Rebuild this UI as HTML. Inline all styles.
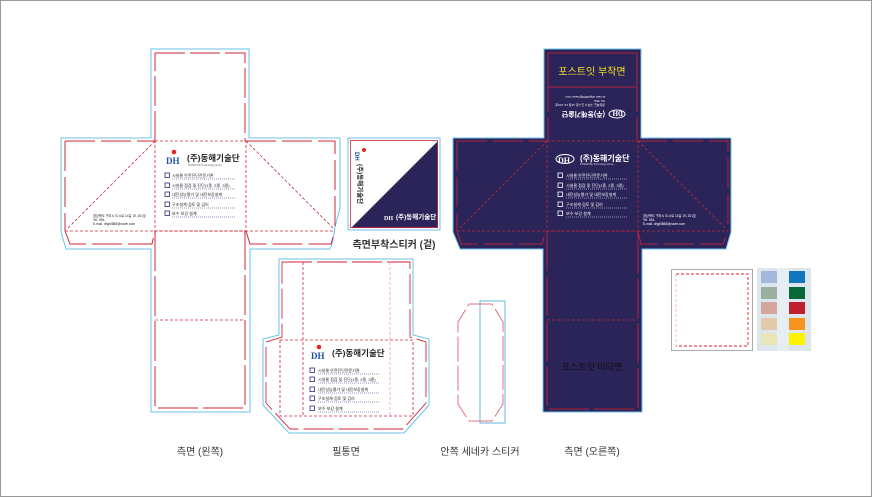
<!DOCTYPE html>
<html><head><meta charset="utf-8">
<style>
html,body{margin:0;padding:0;background:#fff;}
svg{display:block;font-family:"Liberation Sans","Noto Sans CJK KR",sans-serif;}
</style></head>
<body>
<svg width="872" height="497" viewBox="0 0 872 497" xmlns="http://www.w3.org/2000/svg">
<rect x="0.5" y="0.5" width="871" height="496" fill="#fff" stroke="#999"/>

<!-- LEFT CROSS -->
<path d="M151 49 H249 V138 H340 V208 L335 227 Q333 244 330 249 H250 V412 H151 V249 H66 L61 232 V138 H151 Z" fill="#fff" stroke="#6cc3ea" stroke-width="1"/>
<g fill="none" stroke="#d0273a" stroke-width="1">
<path d="M155 53 H245 V141" stroke-dasharray="30 5"/>
<path d="M155 141 V53" stroke-dasharray="30 5"/>
<path d="M65 141 H155 M246 141 H335 V231 M65 141 V231" stroke-dasharray="30 6"/>
<path d="M65 231 L70 244 H152 L155 231 M246 231 L250 244 H331 L335 231" stroke-dasharray="30 6"/>
<path d="M155 231 V408 H245 V231" stroke-dasharray="40 5"/>
</g>
<g fill="none" stroke="#d0273a" stroke-width="0.8" stroke-dasharray="3 2">
<rect x="155" y="141" width="91" height="90"/>
<line x1="65" y1="231" x2="335" y2="231"/>
<line x1="155" y1="320" x2="245" y2="320"/>
<line x1="155" y1="141" x2="68" y2="228"/>
<line x1="246" y1="141" x2="333" y2="228"/>
</g>
<g>
<circle cx="174" cy="152" r="2.3" fill="#e3261d"/>
<text x="166" y="164" font-size="9" font-weight="bold" fill="#1f4fa3" font-family="Liberation Serif,serif">DH</text>
<text x="187" y="161" font-size="8.5" font-weight="bold" fill="#222">(주)동해기술단</text>
<text x="188" y="166" font-size="2.5" fill="#666">DONGHAE Technology Group</text>
<g font-size="4" fill="#222">
<rect x="165" y="173" width="4.5" height="4.5" fill="none" stroke="#2b2a7a" stroke-width="0.8"/><text x="172" y="177">시설물 안전진단전문기관</text><line x1="172" y1="179" x2="235" y2="179" stroke="#2b2a7a" stroke-dasharray="1 1" stroke-width="0.6"/>
<rect x="165" y="183" width="4.5" height="4.5" fill="none" stroke="#2b2a7a" stroke-width="0.8"/><text x="172" y="187">시설물 점검 및 진단(1종, 2종, 3종)</text><line x1="172" y1="189" x2="235" y2="189" stroke="#2b2a7a" stroke-dasharray="1 1" stroke-width="0.6"/>
<rect x="165" y="192" width="4.5" height="4.5" fill="none" stroke="#2b2a7a" stroke-width="0.8"/><text x="172" y="196">내진성능평가 및 내진보강설계</text><line x1="172" y1="198" x2="235" y2="198" stroke="#2b2a7a" stroke-dasharray="1 1" stroke-width="0.6"/>
<rect x="165" y="202" width="4.5" height="4.5" fill="none" stroke="#2b2a7a" stroke-width="0.8"/><text x="172" y="206">구조설계·검토 및 감리</text><line x1="172" y1="208" x2="235" y2="208" stroke="#2b2a7a" stroke-dasharray="1 1" stroke-width="0.6"/>
<rect x="165" y="211" width="4.5" height="4.5" fill="none" stroke="#2b2a7a" stroke-width="0.8"/><text x="172" y="215">보수·보강 설계</text><line x1="172" y1="217" x2="235" y2="217" stroke="#2b2a7a" stroke-dasharray="1 1" stroke-width="0.6"/>
</g>
<g font-size="3.2" fill="#222"><text x="93" y="217">경상북도 구미시 도시로 14길 19, 201호</text><text x="93" y="221">Tel. 054-</text><text x="93" y="225">E-mail. dhgt0888@naver.com</text></g>
</g>

<!-- SIDE STICKER -->
<rect x="348" y="138" width="92" height="92" fill="#fff" stroke="#6cc3ea"/>
<path d="M438 141 V228 H351 Z" fill="#2a2459"/>
<rect x="350.5" y="140.5" width="87" height="87" fill="none" stroke="#d0273a" stroke-width="0.8"/>
<text x="355" y="152" font-size="6" font-weight="bold" fill="#1f4fa3" transform="rotate(90 355 152)">DH</text>
<circle cx="364" cy="150" r="2" fill="#e3261d"/>
<text x="358" y="164" font-size="6.5" font-weight="bold" fill="#222" transform="rotate(90 358 164)">(주)동해기술단</text>
<text x="384" y="220" font-size="6" font-weight="bold" fill="#fff" font-family="Liberation Serif,serif">DH</text>
<text x="396" y="219" font-size="6.5" font-weight="bold" fill="#fff">(주)동해기술단</text>
<text x="394" y="248" font-size="10" font-weight="bold" fill="#333" text-anchor="middle">측면부착스티커 (겉)</text>

<!-- PENCIL CASE -->
<path d="M279 259 H413 V335 L429 339 V405 L404 433 H289 L263 405 V339 L279 335 Z" fill="#fff" stroke="#6cc3ea"/>
<g fill="none" stroke="#d0273a" stroke-width="0.9">
<path d="M282 262 H410 V337 L426 342 V403 L403 429 H290 L266 403 V342 L282 337 Z" stroke-dasharray="30 5"/>
</g>
<g fill="none" stroke="#d0273a" stroke-width="0.8" stroke-dasharray="3 2">
<rect x="280" y="340" width="133" height="76"/>
<line x1="303" y1="262" x2="303" y2="416"/>
</g>
<line x1="390" y1="262" x2="390" y2="416" stroke="#f0a0a8" stroke-width="0.8" stroke-dasharray="3 2"/>
<g>
<circle cx="319" cy="347" r="2.3" fill="#e3261d"/>
<text x="311" y="359" font-size="9" font-weight="bold" fill="#1f4fa3" font-family="Liberation Serif,serif">DH</text>
<text x="332" y="356" font-size="8.5" font-weight="bold" fill="#222">(주)동해기술단</text>
<g font-size="4" fill="#222">
<rect x="310" y="368" width="4.5" height="4.5" fill="none" stroke="#2b2a7a" stroke-width="0.8"/><text x="318" y="372">시설물 안전진단전문기관</text><line x1="318" y1="374" x2="380" y2="374" stroke="#2b2a7a" stroke-dasharray="1 1" stroke-width="0.6"/>
<rect x="310" y="377" width="4.5" height="4.5" fill="none" stroke="#2b2a7a" stroke-width="0.8"/><text x="318" y="381">시설물 점검 및 진단(1종, 2종, 3종)</text><line x1="318" y1="383" x2="380" y2="383" stroke="#2b2a7a" stroke-dasharray="1 1" stroke-width="0.6"/>
<rect x="310" y="387" width="4.5" height="4.5" fill="none" stroke="#2b2a7a" stroke-width="0.8"/><text x="318" y="391">내진성능평가 및 내진보강설계</text><line x1="318" y1="393" x2="380" y2="393" stroke="#2b2a7a" stroke-dasharray="1 1" stroke-width="0.6"/>
<rect x="310" y="396" width="4.5" height="4.5" fill="none" stroke="#2b2a7a" stroke-width="0.8"/><text x="318" y="400">구조설계·검토 및 감리</text><line x1="318" y1="402" x2="380" y2="402" stroke="#2b2a7a" stroke-dasharray="1 1" stroke-width="0.6"/>
<rect x="310" y="406" width="4.5" height="4.5" fill="none" stroke="#2b2a7a" stroke-width="0.8"/><text x="318" y="410">보수·보강 설계</text><line x1="318" y1="412" x2="380" y2="412" stroke="#2b2a7a" stroke-dasharray="1 1" stroke-width="0.6"/>
</g>
</g>

<!-- SENECA -->
<path d="M469 304 H492 L503 322 V404 L492 421 H469 L458 404 V322 Z" fill="none" stroke="#e07080" stroke-width="1" stroke-dasharray="25 4"/>
<rect x="480" y="301" width="25" height="122" fill="none" stroke="#5aaed8" stroke-width="0.9"/>

<!-- RIGHT CROSS -->
<path d="M544 49 H641 V138 H731 V232 L726 249 H642 V412 H543 V249 H460 L453 232 V138 H544 Z" fill="#2a2459" stroke="#6cc3ea" stroke-width="1"/>
<g fill="none" stroke="#b0253c" stroke-width="1">
<rect x="548" y="53" width="89" height="34"/>
<path d="M548 87 V141 M637 87 V141" stroke-dasharray="25 5"/>
<path d="M457 141 H548 M637 141 H728 V231 M457 141 V231" stroke-dasharray="30 6"/>
<path d="M457 231 L461 244 H542 L546 231 M638 231 L641 244 H723 L728 231" stroke-dasharray="30 6"/>
<path d="M547 231 V409 H638 V231" stroke-dasharray="40 5"/>
</g>
<g fill="none" stroke="#c0273a" stroke-width="0.8" stroke-dasharray="3 2">
<rect x="547" y="141" width="91" height="90"/>
<line x1="457" y1="231" x2="728" y2="231"/>
<line x1="547" y1="320" x2="638" y2="320"/>
<line x1="547" y1="141" x2="460" y2="228"/>
<line x1="638" y1="141" x2="725" y2="228"/>
</g>
<text x="592" y="75" font-size="10" fill="#f5e021" text-anchor="middle">포스트잇 부착면</text>
<g transform="rotate(180 592 112)" fill="#fff">
<ellipse cx="567" cy="110" rx="8" ry="4" fill="none" stroke="#fff" stroke-width="1"/>
<text x="561" y="113" font-size="7" font-weight="bold" font-family="Liberation Serif,serif">DH</text>
<text x="579" y="112" font-size="7" font-weight="bold">(주)동해기술단</text>
<g font-size="3"><text x="579" y="120">경상북도 구미시 도시로 14길 19, 201호</text><text x="579" y="124">Tel. 054-</text><text x="579" y="128">E-mail. dhgt0888@naver.com</text></g>
</g>
<g>
<ellipse cx="565" cy="159" rx="9" ry="4.5" fill="none" stroke="#fff" stroke-width="1"/>
<text x="558" y="163" font-size="8" font-weight="bold" fill="#fff" font-family="Liberation Serif,serif">DH</text>
<text x="580" y="161" font-size="8" font-weight="bold" fill="#fff">(주)동해기술단</text>
<text x="580" y="165" font-size="2.5" fill="#ddd">DONGHAE Technology Group</text>
<g font-size="4" fill="#fff">
<rect x="558" y="173" width="4.5" height="4.5" fill="none" stroke="#fff" stroke-width="0.8"/><text x="566" y="177">시설물 안전진단전문기관</text><line x1="566" y1="179" x2="628" y2="179" stroke="#fff" stroke-dasharray="1 1" stroke-width="0.6"/>
<rect x="558" y="183" width="4.5" height="4.5" fill="none" stroke="#fff" stroke-width="0.8"/><text x="566" y="187">시설물 점검 및 진단(1종, 2종, 3종)</text><line x1="566" y1="189" x2="628" y2="189" stroke="#fff" stroke-dasharray="1 1" stroke-width="0.6"/>
<rect x="558" y="192" width="4.5" height="4.5" fill="none" stroke="#fff" stroke-width="0.8"/><text x="566" y="196">내진성능평가 및 내진보강설계</text><line x1="566" y1="198" x2="628" y2="198" stroke="#fff" stroke-dasharray="1 1" stroke-width="0.6"/>
<rect x="558" y="202" width="4.5" height="4.5" fill="none" stroke="#fff" stroke-width="0.8"/><text x="566" y="206">구조설계·검토 및 감리</text><line x1="566" y1="208" x2="628" y2="208" stroke="#fff" stroke-dasharray="1 1" stroke-width="0.6"/>
<rect x="558" y="211" width="4.5" height="4.5" fill="none" stroke="#fff" stroke-width="0.8"/><text x="566" y="215">보수·보강 설계</text><line x1="566" y1="217" x2="628" y2="217" stroke="#fff" stroke-dasharray="1 1" stroke-width="0.6"/>
</g>
<g font-size="3.2" fill="#fff"><text x="643" y="217">경상북도 구미시 도시로 14길 19, 201호</text><text x="643" y="221">Tel. 054-</text><text x="643" y="225">E-mail. dhgt0888@naver.com</text></g>
</g>
<text x="592" y="370" font-size="9" fill="#111" text-anchor="middle">포스트잇 비닥면</text>

<!-- SQUARE + SWATCHES -->
<rect x="671.5" y="269.5" width="81" height="81" fill="#fff" stroke="#aaa" stroke-width="1"/>
<path d="M676 274 H748 V346 H676" fill="none" stroke="#e8202a" stroke-width="0.9" stroke-dasharray="3 2"/>
<line x1="676" y1="274" x2="676" y2="346" stroke="#f6b8c0" stroke-width="0.9" stroke-dasharray="3 2"/>
<rect x="757" y="268" width="54" height="83" fill="#dde6ec"/>
<rect x="777" y="268" width="12" height="83" fill="#e6eef4"/>
<rect x="761" y="271" width="16" height="12" fill="#a3b8da"/><rect x="789" y="271" width="16" height="12" fill="#1375c0"/>
<rect x="761" y="287" width="16" height="12" fill="#9bb0a0"/><rect x="789" y="287" width="16" height="12" fill="#066838"/>
<rect x="761" y="302" width="16" height="12" fill="#d4a79e"/><rect x="789" y="302" width="16" height="12" fill="#c01f2d"/>
<rect x="761" y="318" width="16" height="12" fill="#e3c9ab"/><rect x="789" y="318" width="16" height="12" fill="#f7931e"/>
<rect x="761" y="333" width="16" height="12" fill="#e8e6b8"/><rect x="789" y="333" width="16" height="12" fill="#fff200"/>

<!-- LABELS -->
<g font-size="10" fill="#333" text-anchor="middle">
<text x="200" y="455">측면 (왼쪽)</text>
<text x="346" y="455">필통면</text>
<text x="480" y="455">안쪽 세네카 스티커</text>
<text x="592" y="455">측면 (오른쪽)</text>
</g>
</svg>
</body></html>
